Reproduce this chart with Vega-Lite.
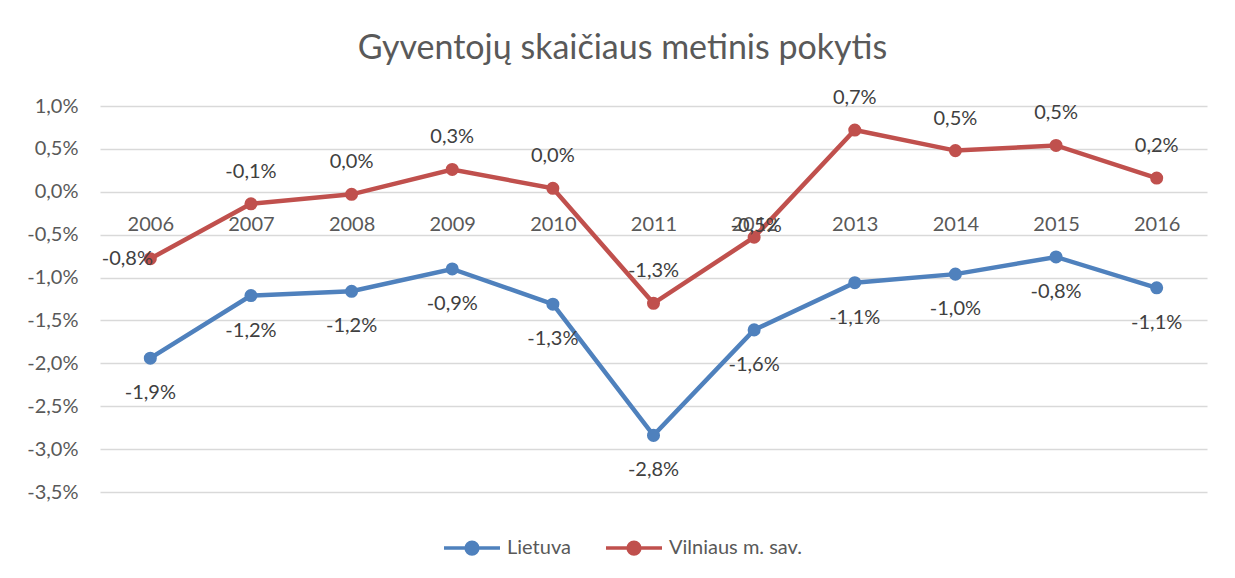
{
  "$schema": "https://vega.github.io/schema/vega-lite/v6.json",
  "width": 1107,
  "height": 386,
  "autosize": {"type": "none"},
  "padding": {"left": 100, "top": 106, "right": 28, "bottom": 86},
  "background": "white",
  "title": {
    "text": "Gyventojų skaičiaus metinis pokytis",
    "font": "Lato",
    "fontSize": 34,
    "fontWeight": "normal",
    "color": "#595959",
    "anchor": "middle",
    "frame": "group",
    "dx": -31,
    "offset": 22
  },
  "data": {
    "values": [
      {"year": "2006", "series": "Lietuva", "value": -0.0194},
      {"year": "2007", "series": "Lietuva", "value": -0.0121},
      {"year": "2008", "series": "Lietuva", "value": -0.0116},
      {"year": "2009", "series": "Lietuva", "value": -0.0090},
      {"year": "2010", "series": "Lietuva", "value": -0.0131},
      {"year": "2011", "series": "Lietuva", "value": -0.0284},
      {"year": "2012", "series": "Lietuva", "value": -0.0161},
      {"year": "2013", "series": "Lietuva", "value": -0.0106},
      {"year": "2014", "series": "Lietuva", "value": -0.0096},
      {"year": "2015", "series": "Lietuva", "value": -0.0076},
      {"year": "2016", "series": "Lietuva", "value": -0.0112},
      {"year": "2006", "series": "Vilniaus m. sav.", "value": -0.0078},
      {"year": "2007", "series": "Vilniaus m. sav.", "value": -0.0014},
      {"year": "2008", "series": "Vilniaus m. sav.", "value": -0.0003},
      {"year": "2009", "series": "Vilniaus m. sav.", "value": 0.0026},
      {"year": "2010", "series": "Vilniaus m. sav.", "value": 0.0004},
      {"year": "2011", "series": "Vilniaus m. sav.", "value": -0.0130},
      {"year": "2012", "series": "Vilniaus m. sav.", "value": -0.0053},
      {"year": "2013", "series": "Vilniaus m. sav.", "value": 0.0072},
      {"year": "2014", "series": "Vilniaus m. sav.", "value": 0.0048},
      {"year": "2015", "series": "Vilniaus m. sav.", "value": 0.0054},
      {"year": "2016", "series": "Vilniaus m. sav.", "value": 0.0016}
    ]
  },
  "encoding": {
    "x": {
      "field": "year",
      "type": "ordinal",
      "scale": {"type": "point", "padding": 0.5},
      "axis": {
        "title": null,
        "orient": "bottom",
        "offset": -300,
        "domain": false,
        "ticks": false,
        "grid": false,
        "labelAngle": 0,
        "labelPadding": 22,
        "labelFont": "Lato",
        "labelFontSize": 20,
        "labelColor": "#595959"
      }
    },
    "y": {
      "field": "value",
      "type": "quantitative",
      "scale": {"domain": [-0.035, 0.01], "nice": false, "zero": false},
      "axis": {
        "title": null,
        "format": ".1%",
        "values": [-0.035, -0.03, -0.025, -0.02, -0.015, -0.01, -0.005, 0, 0.005, 0.01],
        "domain": false,
        "ticks": false,
        "grid": true,
        "gridColor": "#D9D9D9",
        "gridWidth": 1.3,
        "labelPadding": 22,
        "labelFont": "Lato",
        "labelFontSize": 20,
        "labelColor": "#595959"
      }
    },
    "color": {
      "field": "series",
      "type": "nominal",
      "scale": {"domain": ["Lietuva", "Vilniaus m. sav."], "range": ["#4F81BD", "#C0504D"]},
      "legend": {
        "title": null,
        "orient": "none",
        "direction": "horizontal",
        "legendX": 342,
        "legendY": 412,
        "padding": 0,
        "symbolType": "M-1,0L1,0M0.21,0A0.21,0.21,0,1,1,-0.21,0A0.21,0.21,0,1,1,0.21,0Z",
        "symbolSize": 3136,
        "symbolStrokeWidth": 3.5,
        "labelFont": "Lato",
        "labelFontSize": 20,
        "labelColor": "#595959",
        "labelOffset": 5,
        "columnPadding": 28,
        "encode": {
          "symbols": {
            "update": {
              "fill": {"scale": "color", "field": "value"},
              "stroke": {"scale": "color", "field": "value"},
              "opacity": {"value": 1}
            }
          }
        }
      }
    }
  },
  "layer": [
    {
      "mark": {"type": "line", "strokeWidth": 4.5, "point": {"filled": true, "size": 170, "opacity": 1}}
    },
    {
      "transform": [{"filter": "datum.series === 'Lietuva'"}],
      "mark": {"type": "text", "font": "Lato", "fontSize": 20, "dy": 35},
      "encoding": {
        "text": {"field": "value", "type": "quantitative", "format": ".1%"},
        "color": {"value": "#404040"}
      }
    },
    {
      "transform": [{"filter": "datum.series !== 'Lietuva' && datum.year !== '2006' && datum.year !== '2012'"}],
      "mark": {"type": "text", "font": "Lato", "fontSize": 20, "dy": -32},
      "encoding": {
        "text": {"field": "value", "type": "quantitative", "format": ".1%"},
        "color": {"value": "#404040"}
      }
    },
    {
      "transform": [{"filter": "datum.series !== 'Lietuva' && datum.year === '2012'"}],
      "mark": {"type": "text", "font": "Lato", "fontSize": 20, "dy": -11, "dx": 2},
      "encoding": {
        "text": {"field": "value", "type": "quantitative", "format": ".1%"},
        "color": {"value": "#404040"}
      }
    },
    {
      "transform": [{"filter": "datum.series !== 'Lietuva' && datum.year === '2006'"}],
      "mark": {"type": "text", "font": "Lato", "fontSize": 20, "dx": -23},
      "encoding": {
        "text": {"field": "value", "type": "quantitative", "format": ".1%"},
        "color": {"value": "#404040"}
      }
    }
  ],
  "config": {
    "view": {"stroke": null},
    "locale": {
      "number": {"decimal": ",", "thousands": " ", "grouping": [3], "currency": ["", " €"], "minus": "-"}
    }
  }
}
